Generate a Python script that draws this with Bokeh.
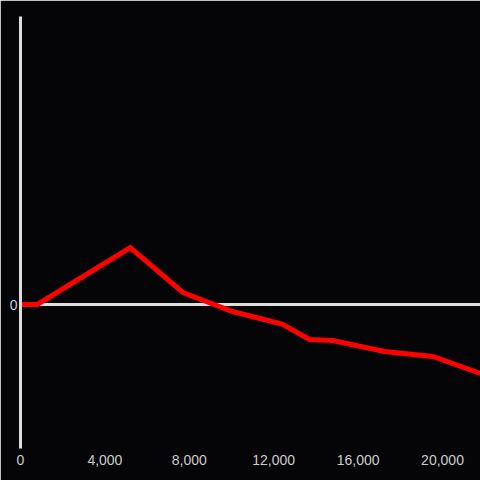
from bokeh.plotting import figure
from bokeh.models import Range1d, FixedTicker, NumeralTickFormatter, Span
from bokeh.embed import file_html
from bokeh.resources import INLINE

# Data (y in relative units, 0 = baseline)
x_values = [0, 800, 5200, 7700, 10050, 12400, 13700, 14800, 17250, 19550, 21800]
y_values = [0, 0, 57, 12, -7, -19.5, -35, -36, -47, -52, -69]
x_ticks = [0, 4000, 8000, 12000, 16000, 20000]
y_ticks = [0]

BG = "#050407"
AXIS = "#dddddd"
LABEL = "#cccccc"

p = figure(width=480, height=480, output_backend="svg", toolbar_location=None,
           x_range=Range1d(0, 21800), y_range=Range1d(-144, 288),
           min_border_left=20, min_border_right=0, min_border_top=16, min_border_bottom=32)

p.background_fill_color = BG
p.border_fill_color = BG
p.outline_line_color = BG
p.outline_line_width = 2
p.xgrid.visible = False
p.ygrid.visible = False

zero = Span(location=0, dimension="width", line_color=AXIS, line_width=3, level="underlay")
p.add_layout(zero)

p.line(x_values, y_values, line_color="#ff0000", line_width=5, line_join="miter")

xa = p.xaxis[0]
xa.ticker = FixedTicker(ticks=x_ticks)
xa.formatter = NumeralTickFormatter(format="0,0")
xa.axis_line_color = None
xa.major_tick_line_color = None
xa.minor_tick_line_color = None
xa.major_tick_out = 0
xa.major_tick_in = 0
xa.minor_tick_out = 0
xa.major_label_standoff = 6
xa.major_label_text_font = "Liberation Sans"
xa.major_label_text_font_size = "14px"
xa.major_label_text_color = LABEL

ya = p.yaxis[0]
ya.ticker = FixedTicker(ticks=y_ticks)
ya.axis_line_color = AXIS
ya.axis_line_width = 3
ya.major_tick_line_color = None
ya.minor_tick_line_color = None
ya.major_tick_out = 0
ya.major_tick_in = 0
ya.minor_tick_out = 0
ya.major_label_standoff = 3
ya.major_label_text_font = "Liberation Sans"
ya.major_label_text_font_size = "14px"
ya.major_label_text_color = LABEL

open("out.html", "w").write(file_html(p, INLINE))
